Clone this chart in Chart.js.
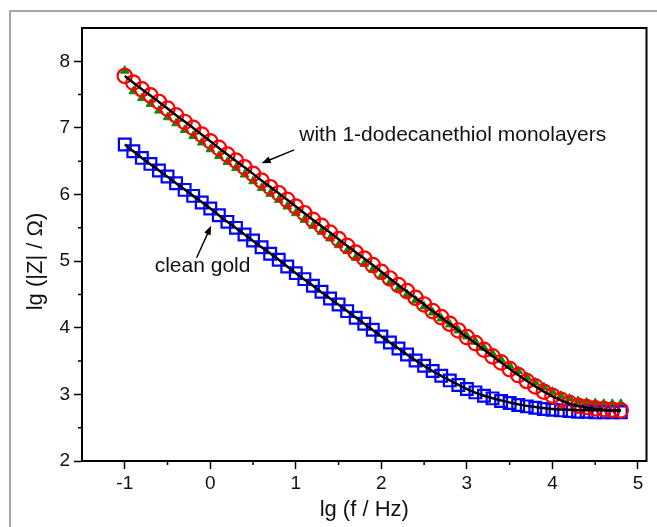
<!DOCTYPE html>
<html>
<head>
<meta charset="utf-8">
<script src="https://cdn.jsdelivr.net/npm/chart.js@4.4.1/dist/chart.umd.min.js"></script>
<style>
  html, body { margin: 0; padding: 0; background: #fff; }
  #wrap { width: 657px; height: 527px; position: relative; }
</style>
</head>
<body>
<div id="wrap"><canvas id="impedanceChart"></canvas></div>
<script>
// lg(f / Hz) of every measured point
const lgF = [
  -1.0, -0.9, -0.8, -0.7, -0.6, -0.5, -0.4, -0.3, -0.2, -0.1,
   0.0,  0.1,  0.2,  0.3,  0.4,  0.5,  0.6,  0.7,  0.8,  0.9,
   1.0,  1.1,  1.2,  1.3,  1.4,  1.5,  1.6,  1.7,  1.8,  1.9,
   2.0,  2.1,  2.2,  2.3,  2.4,  2.5,  2.6,  2.7,  2.8,  2.9,
   3.0,  3.1,  3.2,  3.3,  3.4,  3.5,  3.6,  3.7,  3.8,  3.9,
   4.0,  4.1,  4.2,  4.3,  4.4,  4.5,  4.6,  4.7,  4.8
];
// blue squares: clean gold
const cleanGold = [
  6.75, 6.65, 6.55, 6.46, 6.36, 6.27, 6.17, 6.07, 5.98, 5.88,
  5.79, 5.69, 5.59, 5.50, 5.40, 5.31, 5.21, 5.11, 5.02, 4.92,
  4.82, 4.73, 4.63, 4.54, 4.44, 4.35, 4.25, 4.15, 4.06, 3.97,
  3.87, 3.78, 3.69, 3.60, 3.51, 3.43, 3.35, 3.28, 3.21, 3.14,
  3.08, 3.03, 2.98, 2.94, 2.90, 2.87, 2.84, 2.82, 2.80, 2.78,
  2.77, 2.76, 2.75, 2.74, 2.74, 2.73, 2.73, 2.73, 2.73
];
// red circles: with 1-dodecanethiol monolayers
const samCircles = [
  7.78, 7.68, 7.58, 7.49, 7.39, 7.29, 7.19, 7.09, 7.00, 6.90,
  6.80, 6.70, 6.60, 6.51, 6.41, 6.31, 6.21, 6.11, 6.02, 5.92,
  5.82, 5.72, 5.62, 5.53, 5.43, 5.33, 5.23, 5.13, 5.04, 4.94,
  4.84, 4.74, 4.64, 4.55, 4.45, 4.35, 4.25, 4.16, 4.06, 3.96,
  3.86, 3.77, 3.67, 3.57, 3.48, 3.38, 3.29, 3.20, 3.12, 3.04,
  2.98, 2.92, 2.87, 2.83, 2.81, 2.79, 2.78, 2.77, 2.76
];
// green triangles: with 1-dodecanethiol monolayers (second run)
const samTriangles = [
  7.86, 7.55, 7.45, 7.36, 7.26, 7.16, 7.07, 6.97, 6.88, 6.78,
  6.68, 6.58, 6.49, 6.40, 6.30, 6.20, 6.10, 6.01, 5.92, 5.82,
  5.72, 5.62, 5.53, 5.44, 5.34, 5.24, 5.15, 5.05, 4.96, 4.87,
  4.77, 4.68, 4.59, 4.50, 4.41, 4.32, 4.23, 4.14, 4.05, 3.96,
  3.87, 3.79, 3.70, 3.61, 3.52, 3.43, 3.35, 3.26, 3.18, 3.11,
  3.04, 2.98, 2.94, 2.90, 2.88, 2.87, 2.86, 2.86, 2.86
];
// black fitted curves
const fitX = [
  -1.0, -0.8, -0.6, -0.4, -0.2, 0.0, 0.2, 0.4, 0.6, 0.8,
   1.0,  1.2,  1.4,  1.6,  1.8, 2.0, 2.2, 2.4, 2.6, 2.8,
   3.0,  3.2,  3.4,  3.6,  3.8, 4.0, 4.2, 4.4, 4.6, 4.8
];
const fitClean = [
  6.75, 6.55, 6.36, 6.17, 5.98, 5.79, 5.59, 5.40, 5.21, 5.02,
  4.82, 4.63, 4.44, 4.25, 4.06, 3.87, 3.69, 3.51, 3.35, 3.21,
  3.08, 2.98, 2.91, 2.85, 2.81, 2.78, 2.77, 2.76, 2.76, 2.76
];
const fitSam = [
  7.78, 7.58, 7.39, 7.19, 7.00, 6.80, 6.60, 6.41, 6.21, 6.02,
  5.82, 5.62, 5.43, 5.23, 5.04, 4.84, 4.64, 4.45, 4.25, 4.06,
  3.86, 3.67, 3.48, 3.29, 3.12, 2.97, 2.86, 2.80, 2.77, 2.75
];

const xTicks = [-1, 0, 1, 2, 3, 4, 5];
const xMinor = [-0.5, 0.5, 1.5, 2.5, 3.5, 4.5];
const yTicks = [2, 3, 4, 5, 6, 7, 8];
const yMinor = [2.5, 3.5, 4.5, 5.5, 6.5, 7.5];

const xTitle = "lg (f / Hz)";
const yTitle = "lg (|Z| / Ω)";
// labels with their arrows, in data coordinates
const notes = [
  { text: "with 1-dodecanethiol monolayers", x: 1.04, y: 6.80, from: [0.98, 6.67], to: [0.60, 6.47] },
  { text: "clean gold", x: -0.65, y: 4.83, from: [-0.16, 5.05], to: [0.01, 5.53] },
];

const FONT = '"Liberation Sans", Arial, sans-serif';
Chart.defaults.font.family = FONT;
Chart.defaults.color = "#111";

const pts = (xs, ys) => xs.map((x, i) => ({ x, y: ys[i] }));

function arrow(ctx, x0, y0, x1, y1) {
  const a = Math.atan2(y1 - y0, x1 - x0);
  const len = 9, half = 3.5;
  ctx.beginPath();
  ctx.moveTo(x0, y0);
  ctx.lineTo(x1 - Math.cos(a) * len * 0.8, y1 - Math.sin(a) * len * 0.8);
  ctx.stroke();
  ctx.beginPath();
  ctx.moveTo(x1, y1);
  ctx.lineTo(x1 - Math.cos(a) * len + Math.sin(a) * half, y1 - Math.sin(a) * len - Math.cos(a) * half);
  ctx.lineTo(x1 - Math.cos(a) * len - Math.sin(a) * half, y1 - Math.sin(a) * len + Math.cos(a) * half);
  ctx.closePath();
  ctx.fill();
}

const decorations = {
  id: "decorations",
  beforeDraw(chart) {
    const ctx = chart.ctx;
    ctx.save();
    ctx.fillStyle = "#fff";
    ctx.fillRect(0, 0, chart.width, chart.height);
    // outer figure frame
    ctx.strokeStyle = "#8a8a8a";
    ctx.lineWidth = 1.5;
    ctx.strokeRect(10, 11, 700, 600);
    ctx.restore();
  },
  afterDraw(chart) {
    const { ctx, chartArea: a, scales } = chart;
    const sx = scales.x, sy = scales.y;
    ctx.save();
    ctx.strokeStyle = "#000";
    ctx.fillStyle = "#000";
    // box
    ctx.lineWidth = 2;
    ctx.strokeRect(a.left, a.top, a.right - a.left, a.bottom - a.top);
    // minor ticks
    ctx.lineWidth = 1.5;
    ctx.beginPath();
    xMinor.forEach((v) => {
      const px = sx.getPixelForValue(v);
      ctx.moveTo(px, a.bottom);
      ctx.lineTo(px, a.bottom + 4);
    });
    yMinor.forEach((v) => {
      const py = sy.getPixelForValue(v);
      ctx.moveTo(a.left - 4, py);
      ctx.lineTo(a.left, py);
    });
    ctx.stroke();

    // axis titles
    ctx.font = "22px " + FONT;
    ctx.fillStyle = "#111";
    ctx.textAlign = "center";
    ctx.textBaseline = "alphabetic";
    ctx.fillText(xTitle, (a.left + a.right) / 2, a.bottom + 55);
    ctx.save();
    ctx.translate(42, (a.top + a.bottom) / 2 + 17);
    ctx.rotate(-Math.PI / 2);
    ctx.fillText(yTitle, 0, 0);
    ctx.restore();

    // annotations
    ctx.font = "21px " + FONT;
    ctx.textAlign = "left";
    notes.forEach((n) => {
      ctx.fillStyle = "#111";
      ctx.fillText(n.text, sx.getPixelForValue(n.x), sy.getPixelForValue(n.y));
      ctx.lineWidth = 1.4;
      ctx.strokeStyle = "#000";
      ctx.fillStyle = "#000";
      arrow(ctx,
        sx.getPixelForValue(n.from[0]), sy.getPixelForValue(n.from[1]),
        sx.getPixelForValue(n.to[0]), sy.getPixelForValue(n.to[1]));
    });
    ctx.restore();
  },
};

new Chart(document.getElementById("impedanceChart"), {
  type: "scatter",
  data: {
    datasets: [
      {
        label: "fit SAM",
        data: pts(fitX, fitSam),
        showLine: true,
        borderColor: "#000",
        borderWidth: 2.5,
        pointRadius: 0,
        cubicInterpolationMode: "monotone",
      },
      {
        label: "fit clean",
        data: pts(fitX, fitClean),
        showLine: true,
        borderColor: "#000",
        borderWidth: 2.5,
        pointRadius: 0,
        cubicInterpolationMode: "monotone",
      },
      {
        label: "SAM circles",
        data: pts(lgF, samCircles),
        pointStyle: "circle",
        pointRadius: 7.2,
        borderColor: "#ff0000",
        backgroundColor: "rgba(0,0,0,0)",
        borderWidth: 2.2,
      },
      {
        label: "clean gold",
        data: pts(lgF, cleanGold),
        pointStyle: "rect",
        pointRadius: 8.3,
        borderColor: "#0000ff",
        backgroundColor: "rgba(0,0,0,0)",
        borderWidth: 2.2,
      },
      {
        label: "SAM triangles",
        data: pts(lgF, samTriangles),
        pointStyle: "triangle",
        pointRadius: 5,
        borderColor: "#0a8a0a",
        backgroundColor: "#0a8a0a",
        borderWidth: 1,
      },
    ],
  },
  options: {
    responsive: true,
    maintainAspectRatio: false,
    devicePixelRatio: 1,
    animation: false,
    layout: { padding: { top: 28, right: 9, left: 0, bottom: 0 } },
    plugins: { legend: { display: false }, tooltip: { enabled: false } },
    scales: {
      x: {
        type: "linear",
        min: -1.5,
        max: 5.1,
        afterBuildTicks: (s) => { s.ticks = xTicks.map((v) => ({ value: v })); },
        afterFit: (s) => { s.height = 66; },
        ticks: { font: { size: 19 }, padding: 3, maxRotation: 0 },
        grid: { drawOnChartArea: false, tickLength: 8, tickWidth: 1.5, tickColor: "#000" },
        border: { color: "#000", width: 2 },
      },
      y: {
        type: "linear",
        min: 2,
        max: 8.5,
        afterBuildTicks: (s) => { s.ticks = yTicks.map((v) => ({ value: v })); },
        afterFit: (s) => { s.width = 82; },
        ticks: { font: { size: 19 }, padding: 4 },
        grid: { drawOnChartArea: false, tickLength: 8, tickWidth: 1.5, tickColor: "#000" },
        border: { color: "#000", width: 2 },
      },
    },
  },
  plugins: [decorations],
});
</script>
</body>
</html>
